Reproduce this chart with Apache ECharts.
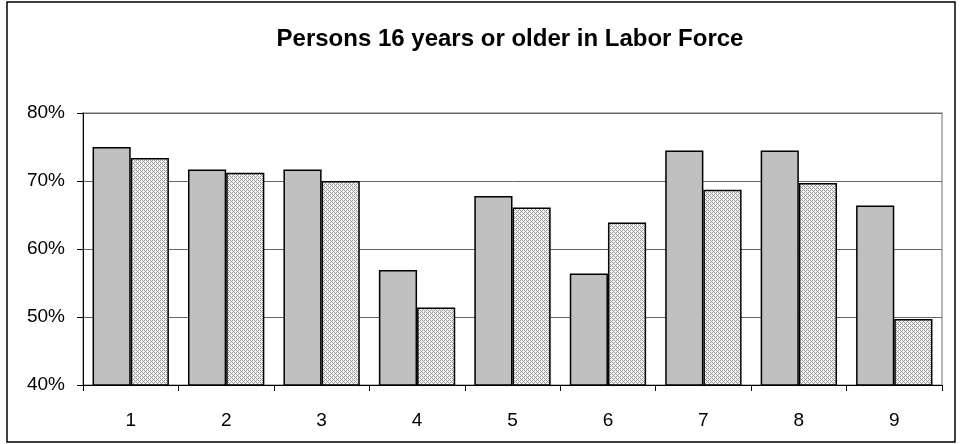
<!DOCTYPE html>
<html>
<head>
<meta charset="utf-8">
<script src="https://cdn.jsdelivr.net/npm/echarts@6/dist/echarts.min.js"></script>
<style>html,body{margin:0;padding:0;background:#fff}#c{width:960px;height:444px}</style>
</head>
<body>
<div id="c"></div>
<script>
const categories = ['1','2','3','4','5','6','7','8','9'];
const seriesA = [75.0, 71.7, 71.7, 56.9, 67.8, 56.4, 74.5, 74.5, 66.4];
const seriesB = [73.4, 71.2, 70.0, 51.4, 66.1, 63.9, 68.7, 69.7, 49.7];
const yTicks = {min: 40, max: 80, interval: 10};

function makePattern() {
  const cv = document.createElement('canvas');
  cv.width = 4; cv.height = 4;
  const ctx = cv.getContext('2d');
  ctx.fillStyle = '#f4f4f4';
  ctx.fillRect(0, 0, 4, 4);
  ctx.fillStyle = '#9c9c9c';
  for (let y = 0; y < 4; y++) {
    for (let x = 0; x < 4; x++) {
      if ((x + y) % 4 === 0 || (x + y) % 4 === 2 && x % 2 === 0) ctx.fillRect(x, y, 1, 1);
    }
  }
  return cv;
}

const chart = echarts.init(document.getElementById('c'), null, {renderer: 'canvas'});
chart.setOption({
  animation: false,
  backgroundColor: '#fff',
  title: {
    text: 'Persons 16 years or older in Labor Force',
    left: 505, top: 22, textAlign: 'center',
    textStyle: {fontFamily: 'Liberation Sans, Arial', fontWeight: 'bold', fontSize: 24, color: '#000'}
  },
  graphic: [{
    type: 'rect', shape: {x: 7, y: 2, width: 948, height: 440},
    style: {fill: 'none', stroke: '#000', lineWidth: 1.5}, z: 100
  }],
  grid: {left: 83, right: 18, top: 113, bottom: 59, show: true, borderColor: '#a0a0a0', borderWidth: 1.5},
  xAxis: {
    type: 'category', data: categories, boundaryGap: true,
    axisLine: {lineStyle: {color: '#000', width: 1}},
    axisTick: {show: true, length: 6, lineStyle: {color: '#000'}},
    axisLabel: {margin: 26, fontFamily: 'Liberation Sans, Arial', fontSize: 19, color: '#000'}
  },
  yAxis: {
    type: 'value', min: yTicks.min, max: yTicks.max, interval: yTicks.interval,
    axisLine: {show: true, lineStyle: {color: '#000', width: 1}},
    axisTick: {show: true, length: 6, lineStyle: {color: '#000'}},
    axisLabel: {formatter: '{value}%', margin: 18, fontFamily: 'Liberation Sans, Arial', fontSize: 19, color: '#000'},
    splitLine: {show: true, lineStyle: {color: '#666', width: 1}}
  },
  series: [
    {
      type: 'bar', data: seriesA, barGap: '0%', barCategoryGap: '20%',
      itemStyle: {color: '#c0c0c0', borderColor: '#000', borderWidth: 1.5}
    },
    {
      type: 'bar', data: seriesB, barGap: '0%', barCategoryGap: '20%',
      itemStyle: {color: {image: makePattern(), repeat: 'repeat'}, borderColor: '#000', borderWidth: 1.5}
    }
  ]
});
</script>
</body>
</html>
